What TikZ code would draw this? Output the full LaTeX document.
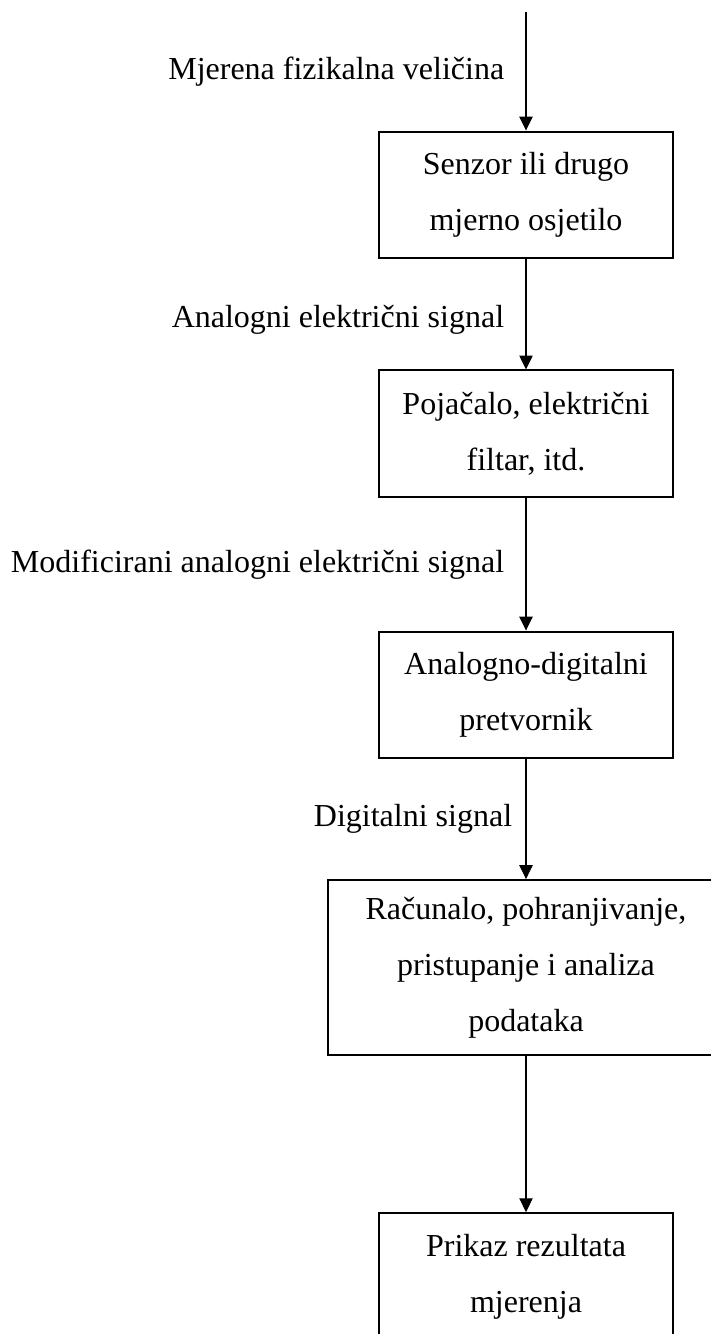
\documentclass[tikz,border=0pt]{standalone}
\usepackage{fontspec}
\setmainfont{Liberation Serif}
\usetikzlibrary{arrows.meta, positioning}

\begin{document}
\begin{tikzpicture}[->,>={Triangle[width=5pt,length=5.2pt]}, line width=0.4pt, x=0.375pt, y=-0.375pt,
  blok/.style={rectangle, draw, line width=0.75pt, minimum width=109.9pt, minimum height=47.6pt, align=center, font=\fontsize{12pt}{21pt}\selectfont},
  oznaka/.style={left, inner sep=8pt, font=\fontsize{12pt}{14pt}\selectfont}]

\useasboundingbox (0,0) rectangle (710,1334);

\coordinate (ulaz) at (526,12);
\node [blok] (senzor) at (526,195) {Senzor ili drugo\\mjerno osjetilo};
\node [blok] (pojacalo) [below of=senzor, node distance=89.6pt] {Pojačalo, električni\\filtar, itd.};
\node [blok] (pretvornik) [below of=pojacalo, node distance=97.9pt] {Analogno-digitalni\\pretvornik};
\node [blok, minimum width=148.5pt, minimum height=65.6pt] (racunalo) [below of=pretvornik, node distance=102.2pt] {Računalo, pohranjivanje,\\pristupanje i analiza\\podataka};
\node [blok] (prikaz) [below of=racunalo, node distance=115.9pt] {Prikaz rezultata\\mjerenja};

\path (ulaz) edge node [oznaka] {Mjerena fizikalna veličina} (senzor) ;
\path (senzor) edge node [oznaka, yshift=-2pt] {Analogni električni signal} (pojacalo) ;
\path (pojacalo) edge node [oznaka] {Modificirani analogni električni signal} (pretvornik) ;
\path (pretvornik) edge node [oznaka, inner sep=5pt] {Digitalni signal} (racunalo) ;
\path (racunalo) edge (prikaz) ;

\end{tikzpicture}
\end{document}
